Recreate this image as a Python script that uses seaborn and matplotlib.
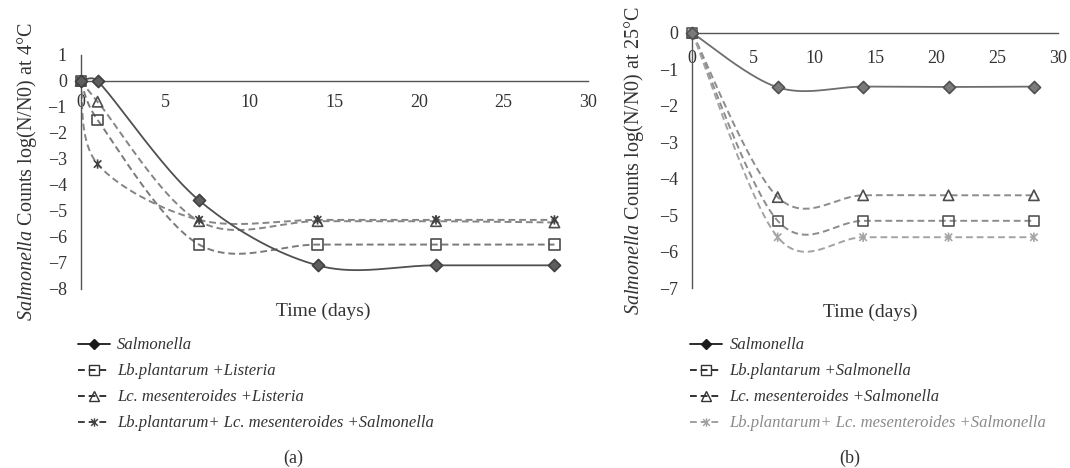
import numpy as np
import pandas as pd
import matplotlib
matplotlib.use("Agg")
import matplotlib.pyplot as plt
from matplotlib.lines import Line2D
from matplotlib.path import Path
import seaborn as sns

# ---- data: log reduction of Salmonella counts over storage time ----
days_4c = [0, 1, 7, 14, 21, 28]
salmonella_4c = [0, 0, -4.6, -7.1, -7.1, -7.1]
lbp_listeria_4c = [0, -1.5, -6.3, -6.3, -6.3, -6.3]
lcm_listeria_4c = [0, -0.8, -5.4, -5.4, -5.4, -5.45]
mix_salmonella_4c = [0, -3.2, -5.35, -5.35, -5.35, -5.35]

days_25c = [0, 7, 14, 21, 28]
salmonella_25c = [0, -1.49, -1.47, -1.48, -1.47]
lbp_salmonella_25c = [0, -5.15, -5.15, -5.15, -5.15]
lcm_salmonella_25c = [0, -4.5, -4.45, -4.45, -4.45]
mix_salmonella_25c = [0, -5.6, -5.6, -5.6, -5.6]

labels_a = ["Salmonella", "Lb.plantarum +Listeria",
            "Lc. mesenteroides +Listeria",
            "Lb.plantarum+ Lc. mesenteroides +Salmonella"]
labels_b = ["Salmonella", "Lb.plantarum +Salmonella",
            "Lc. mesenteroides +Salmonella",
            "Lb.plantarum+ Lc. mesenteroides +Salmonella"]

x_ticks = [0, 5, 10, 15, 20, 25, 30]
y_ticks_a = [1, 0, -1, -2, -3, -4, -5, -6, -7, -8]
y_ticks_b = [0, -1, -2, -3, -4, -5, -6, -7]

sns.set_theme(style="white")
plt.rcParams["font.family"] = ["Liberation Serif", "DejaVu Serif"]
plt.rcParams["mathtext.fontset"] = "custom"
plt.rcParams["mathtext.rm"] = "Liberation Serif"
plt.rcParams["mathtext.it"] = "Liberation Serif:italic"

TEXT = "#333333"
AXIS = "#555555"


def smooth_curve(ax, xs, ys, n=40):
    """Bezier smoothing through the points (spreadsheet-style smoothed line).

    Control vectors are (P[i+1] - P[i-1]) / 6, shortened on very short
    segments (measured in display pixels) so the curve does not overshoot.
    """
    P = np.column_stack([xs, ys]).astype(float)
    S = ax.transData.transform(P)
    ext = np.vstack([P[0], P, P[-1]])
    ext_s = np.vstack([S[0], S, S[-1]])
    t = np.linspace(0, 1, n)[:, None]
    parts = []
    for i in range(len(P) - 1):
        p0, p1, p2, p3 = ext[i], ext[i + 1], ext[i + 2], ext[i + 3]
        s0, s1, s2, s3 = ext_s[i], ext_s[i + 1], ext_s[i + 2], ext_s[i + 3]
        seg_len = np.hypot(*(s2 - s1))
        v1, v2 = (p2 - p0) / 6, (p3 - p1) / 6
        l1, l2 = np.hypot(*((s2 - s0) / 6)), np.hypot(*((s3 - s1) / 6))
        lim = seg_len / 2
        if l1 > lim:
            v1 = v1 * lim / l1
        if l2 > lim:
            v2 = v2 * lim / l2
        c1, c2 = p1 + v1, p2 - v2
        seg = ((1 - t) ** 3) * p1 + 3 * ((1 - t) ** 2) * t * c1 \
            + 3 * (1 - t) * t ** 2 * c2 + t ** 3 * p2
        parts.append(seg if i == 0 else seg[1:])
    return np.vstack(parts)


# x-with-vertical-bar star marker
star = Path([(-1, -1), (1, 1), (-1, 1), (1, -1), (0, -1.25), (0, 1.25)],
            [Path.MOVETO, Path.LINETO] * 3)

DASH = (0, (3.5, 2.0))


def draw_series(ax, xs, ys, line_color, ls, marker, m_face, m_edge, size, lw=1.4):
    curve = smooth_curve(ax, xs, ys)
    df_curve = pd.DataFrame({"x": curve[:, 0], "y": curve[:, 1]})
    sns.lineplot(data=df_curve, x="x", y="y", ax=ax, sort=False, estimator=None,
                 color=line_color, linestyle=ls, linewidth=lw, zorder=2)
    df_pts = pd.DataFrame({"x": xs, "y": ys})
    sns.scatterplot(data=df_pts, x="x", y="y", ax=ax, marker=marker, s=size,
                    color=m_edge, facecolor=m_face, edgecolor=m_edge,
                    linewidth=1.2, zorder=3, clip_on=False)


def style_axes(ax, ylim, yticks, xpad):
    ax.set_xlim(0, 30)
    ax.set_ylim(*ylim)
    ax.set_xticks(x_ticks)
    ax.set_yticks(yticks)
    for side in ("top", "right"):
        ax.spines[side].set_visible(False)
    ax.spines["bottom"].set_position(("data", 0))
    for side in ("left", "bottom"):
        ax.spines[side].set_color(AXIS)
        ax.spines[side].set_linewidth(1.0)
    ax.tick_params(axis="x", direction="out", length=4, width=1.0, color=AXIS,
                   labelsize=13, labelcolor=TEXT, pad=xpad)
    ax.tick_params(axis="y", direction="out", length=4, width=1.0, color=AXIS,
                   labelsize=13, labelcolor=TEXT, pad=6)
    ax.grid(False)
    ax.set_facecolor("none")


fig = plt.figure(figsize=(10.7, 4.68), dpi=100)
ax_a = fig.add_axes([0.0754, 0.3831, 0.4744, 0.4994])
ax_b = fig.add_axes([0.647, 0.384, 0.3421, 0.5455])

# limits first so the smoothing can work in display space
style_axes(ax_a, (-8, 1), y_ticks_a, 5.5)
style_axes(ax_b, (-7, 0), y_ticks_b, 8.5)

# ---- panel (a): 4 °C ----
draw_series(ax_a, days_4c, lbp_listeria_4c, "#7a7a7a", DASH, "s", "none", "#4d4d4d", 55)
draw_series(ax_a, days_4c, lcm_listeria_4c, "#858585", DASH, "^", "none", "#4d4d4d", 55)
draw_series(ax_a, days_4c, mix_salmonella_4c, "#858585", DASH, star, "none", "#404040", 45)
draw_series(ax_a, days_4c, salmonella_4c, "#505050", "-", "D", "#5e5e5e", "#404040", 38, lw=1.3)

# ---- panel (b): 25 °C ----
draw_series(ax_b, days_25c, lcm_salmonella_25c, "#8c8c8c", DASH, "^", "none", "#4d4d4d", 55)
draw_series(ax_b, days_25c, lbp_salmonella_25c, "#8c8c8c", DASH, "s", "none", "#555555", 55)
draw_series(ax_b, days_25c, mix_salmonella_25c, "#a3a3a3", DASH, star, "none", "#a6a6a6", 45)
draw_series(ax_b, days_25c, salmonella_25c, "#6e6e6e", "-", "D", "#7a7a7a", "#505050", 38, lw=1.3)

for ax, ylim in ((ax_a, (-8, 1)), (ax_b, (-7, 0))):
    ax.set_xlim(0, 30)
    ax.set_ylim(*ylim)

# axis titles
for ax, temp, xpos in ((ax_a, "4", 0.477), (ax_b, "25", 0.4855)):
    ax.set_xlabel("Time (days)", fontsize=14, color=TEXT)
    ax.xaxis.label.set_va("center")
    ax.xaxis.set_label_coords(xpos, -0.095)
    ax.set_ylabel(r"$\mathit{Salmonella}$ Counts log(N/N0) at " + temp + "°C",
                  fontsize=14.5, color=TEXT)
    ax.yaxis.label.set_va("center")
ax_a.yaxis.set_label_coords(-0.105, 0.5)
ax_b.yaxis.set_label_coords(-0.16, 0.5)


# legends
def legend_handles(star_color):
    return [
        Line2D([], [], color="#1a1a1a", lw=1.3, marker="D", markersize=5.5,
               markerfacecolor="#1a1a1a", markeredgecolor="#1a1a1a"),
        Line2D([], [], color="#333333", lw=1.4, ls=DASH, marker="s", markersize=7,
               markerfacecolor="none", markeredgecolor="#333333"),
        Line2D([], [], color="#333333", lw=1.4, ls=DASH, marker="^", markersize=7,
               markerfacecolor="none", markeredgecolor="#333333"),
        Line2D([], [], color=star_color, lw=1.4, ls=DASH, marker=star, markersize=6,
               markerfacecolor="none", markeredgecolor=star_color),
    ]


for labels, star_col, x0, last_text in ((labels_a, "#404040", 0.0729, TEXT),
                                        (labels_b, "#a0a0a0", 0.645, "#8a8a8a")):
    leg = fig.legend(legend_handles(star_col), labels, loc="upper left",
                     bbox_to_anchor=(x0, 0.279), frameon=False, borderpad=0,
                     borderaxespad=0, handlelength=1.9, handletextpad=0.45,
                     labelspacing=0.6,
                     prop={"family": "Liberation Serif", "style": "italic", "size": 12})
    for i, txt in enumerate(leg.get_texts()):
        txt.set_color(last_text if i == 3 else TEXT)

fig.text(0.274, 0.0214, "(a)", ha="center", va="center", fontsize=13, color=TEXT)
fig.text(0.794, 0.0214, "(b)", ha="center", va="center", fontsize=13, color=TEXT)

fig.savefig("out.png", dpi=100, facecolor="white")
